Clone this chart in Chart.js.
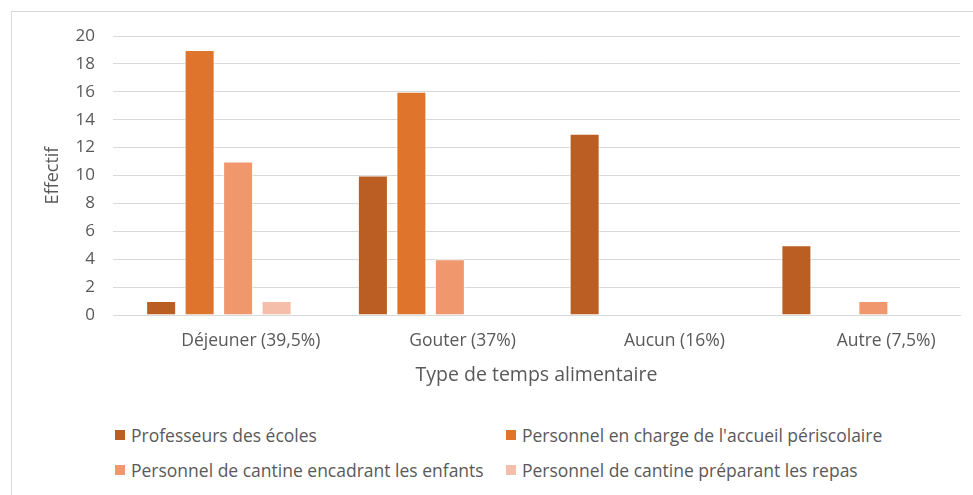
<!DOCTYPE html>
<html>
<head>
<meta charset="utf-8">
<script src="https://cdn.jsdelivr.net/npm/chart.js@4"></script>
<style>
  html, body { margin: 0; padding: 0; background: #fff; }
  #wrap { position: relative; width: 973px; height: 495px; overflow: hidden; }
  #frame { position: absolute; left: 11px; top: 11px; width: 1000px; height: 600px; border: 1px solid #d9d9d9; box-sizing: border-box; }
  #chartBox { position: absolute; left: 0; top: 0; width: 973px; height: 410px; }
  #legend { position: absolute; left: 115px; top: 423px; width: 850px; font-family: "Open Sans", sans-serif; font-size: 17.5px; color: #595959; }
  .item { position: absolute; display: flex; align-items: center; white-space: nowrap; }
  .box { width: 10px; height: 10px; margin-right: 6px; }
</style>
</head>
<body>
<div id="wrap">
  <div id="frame"></div>
  <div id="chartBox"><canvas id="chart"></canvas></div>
  <div id="legend"></div>
</div>
<script>
// Type de temps alimentaire
const categories = ['Déjeuner (39,5%)', 'Gouter (37%)', 'Aucun (16%)', 'Autre (7,5%)'];
const seriesNames = [
  'Professeurs des écoles',
  "Personnel en charge de l'accueil périscolaire",
  'Personnel de cantine encadrant les enfants',
  'Personnel de cantine préparant les repas'
];
const professeurs = [1, 10, 13, 5];
const periscolaire = [19, 16, 0, 0];
const cantineEncadrant = [11, 4, 0, 1];
const cantinePreparant = [1, 0, 0, 0];
const yTicks = [0, 2, 4, 6, 8, 10, 12, 14, 16, 18, 20];

const colors = ['#BA5E23', '#DF752C', '#F0976D', '#F5BEAA'];
const seriesValues = [professeurs, periscolaire, cantineEncadrant, cantinePreparant];

const textColor = '#595959';
const family = '"Open Sans", sans-serif';

const chart = new Chart(document.getElementById('chart'), {
  type: 'bar',
  data: {
    labels: categories,
    datasets: seriesNames.map((name, i) => ({
      label: name,
      data: seriesValues[i],
      backgroundColor: colors[i],
      borderColor: 'rgba(255,255,255,0.6)',
      borderWidth: 1,
      categoryPercentage: 0.727,
      barPercentage: 0.78,
    }))
  },
  options: {
    responsive: true,
    maintainAspectRatio: false,
    animation: false,
    layout: { padding: { left: 0, right: 13, top: 36, bottom: 0 } },
    plugins: {
      legend: { display: false },
      tooltip: { enabled: false },
    },
    scales: {
      x: {
        afterFit: (axis) => { axis.height = 95; },
        grid: { display: false, drawTicks: false },
        border: { display: true, color: '#d9d9d9', width: 1 },
        ticks: { color: textColor, font: { family, size: 17.5 }, labelOffset: 32, padding: 16, maxRotation: 0 },
        title: { display: true, text: 'Type de temps alimentaire', color: textColor, font: { family, size: 19.5 }, padding: { top: 23, bottom: 23 } },
      },
      y: {
        min: 0,
        max: 20,
        afterFit: (axis) => { axis.width = 113; },
        afterBuildTicks: (axis) => { axis.ticks = yTicks.map(v => ({ value: v })); },
        grid: { color: '#d9d9d9', drawTicks: false },
        border: { display: false },
        ticks: { color: textColor, font: { family, size: 17 }, padding: 18 },
        title: { display: true, text: 'Effectif', color: textColor, font: { family, size: 18 }, padding: { top: 42, bottom: 42 } },
      }
    }
  }
});

// HTML legend in two columns, built from the chart datasets
const legendEl = document.getElementById('legend');
const colX = [0, 391];
const rowY = [0, 35];
chart.data.datasets.forEach((ds, i) => {
  const item = document.createElement('div');
  item.className = 'item';
  item.style.left = colX[i % 2] + 'px';
  item.style.top = rowY[Math.floor(i / 2)] + 'px';
  const box = document.createElement('span');
  box.className = 'box';
  box.style.background = ds.backgroundColor;
  const txt = document.createElement('span');
  txt.textContent = ds.label;
  item.appendChild(box);
  item.appendChild(txt);
  legendEl.appendChild(item);
});
</script>
</body>
</html>
